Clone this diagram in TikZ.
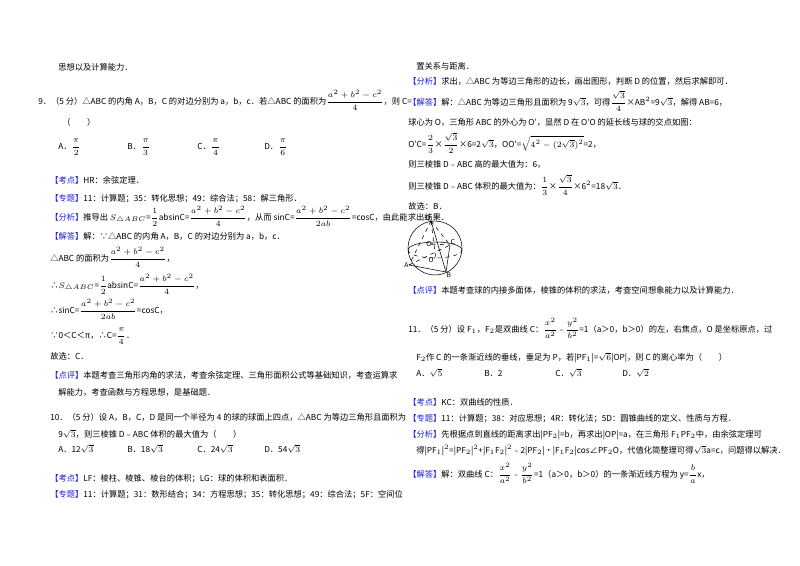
\documentclass[tikz,border=0pt]{standalone}
\usepackage{fontspec}
\usepackage{amsmath}
\setmainfont{Noto Sans CJK SC}
\definecolor{kb}{RGB}{30,30,220}
\newcommand{\bk}[1]{{\color{kb}【#1】}}
\newcommand{\F}[2]{$\dfrac{#1}{#2}$}
\begin{document}
\begin{tikzpicture}[x=0.75pt,y=-0.75pt,
  t/.style={anchor=base west,inner sep=0pt,font=\fontsize{6.2}{7}\selectfont},
  lbl/.style={font=\fontsize{5}{6}\selectfont\itshape,inner sep=0.3pt}]
\useasboundingbox (0,0) rectangle (800,565);
\fill[white] (0,0) rectangle (800,565);
% left column
\node[t] (l1) at (58,70) {思想以及计算能力．};
\node[t] (l2) at (38,104) {9．（5 分）△ABC 的内角 A，B，C 的对边分别为 a，b，c．若△ABC 的面积为\F{a^2+b^2-c^2}{4}，则 C=};
\node[t] (l3) at (62,125) {（\quad\quad）};
\node[t] (oa) at (58,149) {A．\F{\pi}{2}};
\node[t] (ob) at (127,149) {B．\F{\pi}{3}};
\node[t] (oc) at (197,149) {C．\F{\pi}{4}};
\node[t] (od) at (264,149) {D．\F{\pi}{6}};
\node[t] (l4) at (50,183) {\bk{考点}HR：余弦定理．};
\node[t] (l5) at (50,201) {\bk{专题}11：计算题；35：转化思想；49：综合法；58：解三角形．};
\node[t] (l6) at (50,220) {\bk{分析}推导出 $S_{\triangle ABC}$=\F12absinC=\F{a^2+b^2-c^2}{4}，从而 sinC=\F{a^2+b^2-c^2}{2ab}=cosC，由此能求出结果．};
\node[t] (l7) at (50,239) {\bk{解答}解：∵△ABC 的内角 A，B，C 的对边分别为 a，b，c．};
\node[t] (l8) at (50,261) {△ABC 的面积为\F{a^2+b^2-c^2}{4}，};
\node[t] (l9) at (50,288) {∴$S_{\triangle ABC}$=\F12absinC=\F{a^2+b^2-c^2}{4}，};
\node[t] (l10) at (50,313) {∴sinC=\F{a^2+b^2-c^2}{2ab}=cosC，};
\node[t] (l11) at (50,338) {∵0＜C＜π，∴C=\F{\pi}{4}．};
\node[t] (l12) at (50,359) {故选：C．};
\node[t] (l13) at (50,378) {\bk{点评}本题考查三角形内角的求法，考查余弦定理、三角形面积公式等基础知识，考查运算求};
\node[t] (l14) at (58,395) {解能力，考查函数与方程思想，是基础题．};
\node[t] (l15) at (50,420) {10．（5 分）设 A，B，C，D 是同一个半径为 4 的球的球面上四点，△ABC 为等边三角形且面积为};
\node[t] (l16) at (58,437) {9$\sqrt3$，则三棱锥 D﹣ABC 体积的最大值为（\quad\quad）};
\node[t] (pa) at (58,452) {A．12$\sqrt3$};
\node[t] (pb) at (127,452) {B．18$\sqrt3$};
\node[t] (pc) at (197,452) {C．24$\sqrt3$};
\node[t] (pd) at (264,452) {D．54$\sqrt3$};
\node[t] (l17) at (50,481) {\bk{考点}LF：棱柱、棱锥、棱台的体积；LG：球的体积和表面积．};
\node[t] (l18) at (50,497) {\bk{专题}11：计算题；31：数形结合；34：方程思想；35：转化思想；49：综合法；5F：空间位};
% right column
\node[t] (r1) at (416,69) {置关系与距离．};
\node[t] (r2) at (408,84) {\bk{分析}求出，△ABC 为等边三角形的边长，画出图形，判断 D 的位置，然后求解即可．};
\node[t] (r3) at (408,105) {\bk{解答}解：△ABC 为等边三角形且面积为 9$\sqrt3$，可得\F{\sqrt3}{4}×AB$^2$=9$\sqrt3$，解得 AB=6，};
\node[t] (r4) at (408,125) {球心为 O，三角形 ABC 的外心为 O′，显然 D 在 O′O 的延长线与球的交点如图：};
\node[t] (r5) at (408,147) {O′C=\F23×\F{\sqrt3}{2}×6=2$\sqrt3$，OO′=$\sqrt{4^2-(2\sqrt3)^2}$=2，};
\node[t] (r6) at (408,167) {则三棱锥 D﹣ABC 高的最大值为：6，};
\node[t] (r7) at (408,189) {则三棱锥 D﹣ABC 体积的最大值为：\F13×\F{\sqrt3}{4}×6$^2$=18$\sqrt3$．};
\node[t] (r8) at (408,209) {故选：B．};
% sphere figure
\draw[thin] (435,248) circle (27);
\draw[thin] (408,250) arc (180:360:27 and 8);
\draw[thin,dashed] (408,250) arc (180:0:27 and 8);
\coordinate (D) at (431,221);
\coordinate (A) at (409,265);
\coordinate (B) at (446,272);
\coordinate (C) at (450,245);
\coordinate (O) at (432,244);
\coordinate (Op) at (436,260);
\draw[thin,dashed] (D)--(A) (D)--(C) (D)--(Op) (A)--(C) (O)--(C);
\draw[thin] (D)--(B) (A)--(B) (B)--(C);
\fill (O) circle (0.8);
\node[lbl,above left] (dl) at (D) {D};
\node[lbl,left] (al) at (A) {A};
\node[lbl,below right] (bl) at (B) {B};
\node[lbl,above right] (cl) at (C) {C};
\node[lbl,left] (ol) at (O) {O};
\node[lbl,left] (opl) at (Op) {O′};
\node[t] (r9) at (408,293) {\bk{点评}本题考查球的内接多面体，棱锥的体积的求法，考查空间想象能力以及计算能力．};
\node[t] (r10) at (408,332) {11．（5 分）设 F$_1$，F$_2$是双曲线 C：\F{x^2}{a^2}﹣\F{y^2}{b^2}=1（a＞0，b＞0）的左，右焦点，O 是坐标原点，过};
\node[t] (r11) at (416,360) {F$_2$作 C 的一条渐近线的垂线，垂足为 P，若|PF$_1$|=$\sqrt6$|OP|，则 C 的离心率为（\quad\quad）};
\node[t] (qa) at (416,376) {A．$\sqrt5$};
\node[t] (qb) at (484,376) {B．2};
\node[t] (qc) at (555,376) {C．$\sqrt3$};
\node[t] (qd) at (622,376) {D．$\sqrt2$};
\node[t] (r12) at (408,405) {\bk{考点}KC：双曲线的性质．};
\node[t] (r13) at (408,421) {\bk{专题}11：计算题；38：对应思想；4R：转化法；5D：圆锥曲线的定义、性质与方程．};
\node[t] (r14) at (408,437) {\bk{分析}先根据点到直线的距离求出|PF$_2$|=b，再求出|OP|=a，在三角形 F$_1$PF$_2$中，由余弦定理可};
\node[t] (r15) at (416,453) {得|PF$_1$|$^2$=|PF$_2$|$^2$+|F$_1$F$_2$|$^2$﹣2|PF$_2$|•|F$_1$F$_2$|cos∠PF$_2$O，代值化简整理可得$\sqrt3$a=c，问题得以解决．};
\node[t] (r16) at (408,477) {\bk{解答}解：双曲线 C：\F{x^2}{a^2}﹣\F{y^2}{b^2}=1（a＞0，b＞0）的一条渐近线方程为 y=\F{b}{a}x，};
\end{tikzpicture}
\end{document}
